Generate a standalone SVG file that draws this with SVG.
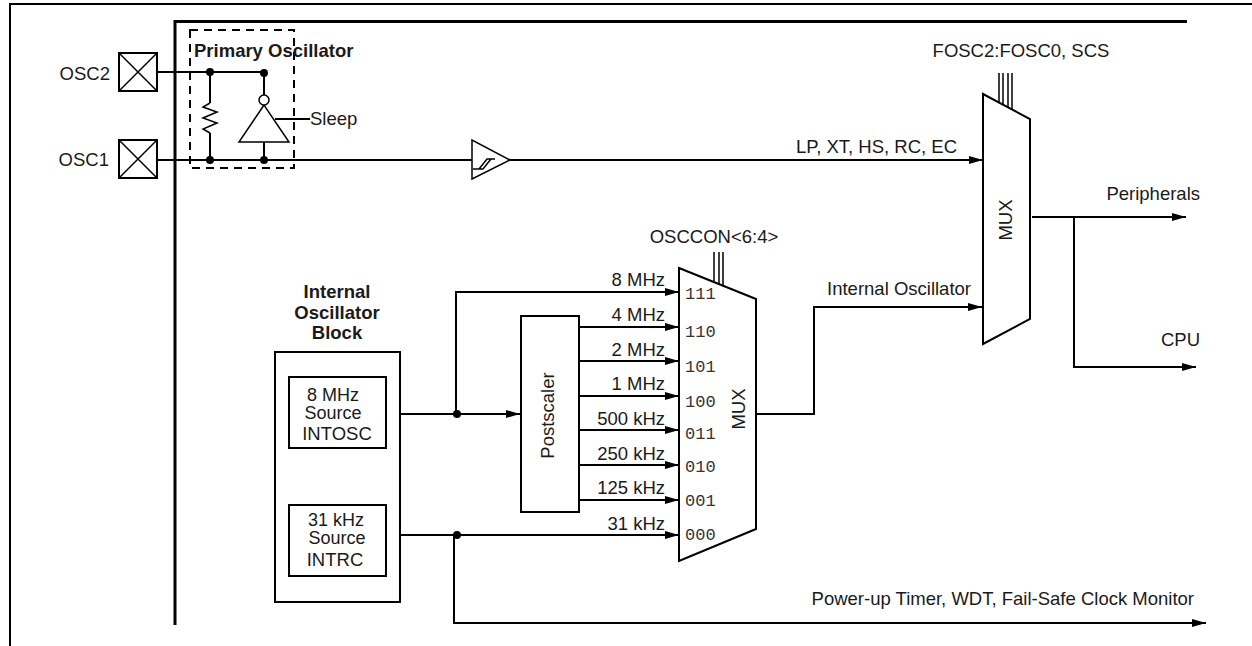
<svg xmlns="http://www.w3.org/2000/svg" width="1252" height="646" viewBox="0 0 1252 646">
<style>
text{font-family:"Liberation Sans",Arial,sans-serif;font-size:18.500px;fill:#1a1a1a}
.b{font-weight:bold}
.m{font-family:"Liberation Mono","Courier New",monospace;font-size:17px;fill:#333}
.e{text-anchor:end}
.c{text-anchor:middle}
.s{font-size:18px}
.l{fill:none;stroke:#000;stroke-width:2}
.t{fill:none;stroke:#000;stroke-width:1.5}
.box{fill:#fff;stroke:#000;stroke-width:2}
</style>
<defs>
<marker id="a" markerUnits="userSpaceOnUse" markerWidth="15" markerHeight="10" refX="14" refY="5" orient="auto"><path d="M0 1L14 5L0 9Z"/></marker>
<circle id="d" r="4"/>
</defs>
<path id="frame" d="M10 646V4H1252" fill="none" stroke="#000" stroke-width="2"/>
<path id="border" d="M175 625V21.500H1187" fill="none" stroke="#000" stroke-width="3"/>
<g id="connectors">
<path class="l" d="M157 72H264M157 160H472"/>
<path class="l" d="M510 160H983" marker-end="url(#a)"/>
<path class="l" d="M210 72V103M210 133V160M264 72V95M264 142V160M275 119H310"/>
<path class="l" d="M384 414H520" marker-end="url(#a)"/>
<path class="l" d="M456 414V292H679" marker-end="url(#a)"/>
<path class="l" d="M579 327H679" marker-end="url(#a)"/>
<path class="l" d="M579 361H679" marker-end="url(#a)"/>
<path class="l" d="M579 396H679" marker-end="url(#a)"/>
<path class="l" d="M579 430H679" marker-end="url(#a)"/>
<path class="l" d="M579 465H679" marker-end="url(#a)"/>
<path class="l" d="M579 500H679" marker-end="url(#a)"/>
<path class="l" d="M384 535H679" marker-end="url(#a)"/>
<path class="l" d="M454 535V623H1206" marker-end="url(#a)"/>
<path class="l" d="M756 414H814V307H982" marker-end="url(#a)"/>
<path class="l" d="M1032 217H1186" marker-end="url(#a)"/>
<path class="l" d="M1074 217V367H1196" marker-end="url(#a)"/>
<path class="t" d="M714 252V282M719 252V284M723 252V285"/>
<path class="t" d="M999 73V104M1003 73V106M1008 73V108M1012 73V111"/>
<use href="#d" x="210" y="72"/><use href="#d" x="264" y="73"/><use href="#d" x="210" y="160"/><use href="#d" x="264" y="160"/>
<use href="#d" x="457" y="414"/><use href="#d" x="457" y="535"/>
</g>
<g id="osc2"><rect class="box" x="119" y="53" width="38" height="38"/><path class="t" d="M119 53L157 91M157 53L119 91"/><text class="e" x="110" y="80">OSC2</text></g>
<g id="osc1"><rect class="box" x="119" y="140" width="38" height="38"/><path class="t" d="M119 140L157 178M157 140L119 178"/><text class="e" x="109" y="166">OSC1</text></g>
<g id="primary">
<rect x="190" y="30" width="104" height="138" fill="none" stroke="#000" stroke-width="2" stroke-dasharray="8 6"/>
<text class="b" x="194" y="57">Primary Oscillator</text>
<path class="t" d="M210 103L203 107L217 112L203 118L217 123L203 129L210 133"/>
<path d="M264 105L239 142H289Z" fill="#fff" stroke="#000" stroke-width="1.5"/>
<circle cx="264" cy="100" r="5" fill="#fff" stroke="#000" stroke-width="1.500"/>
<text x="310" y="125">Sleep</text>
</g>
<g id="schmitt"><path d="M472 140V179L510 160Z" fill="#fff" stroke="#000" stroke-width="1.500"/><path class="t" d="M473 169H483L491 159H495M479 169L487 159H491"/></g>
<g id="mux1"><path class="box" d="M983 94L1030 119V319L983 344Z"/><text class="c" transform="translate(1012 220) rotate(-90)">MUX</text></g>
<g id="mux2"><path class="box" d="M679 268L756 299V529L679 561Z"/><text class="c" transform="translate(745 409) rotate(-90)">MUX</text>
<text class="m" x="685" y="299">111</text><text class="m" x="685" y="337">110</text><text class="m" x="685" y="372">101</text><text class="m" x="685" y="407">100</text><text class="m" x="685" y="439">011</text><text class="m" x="685" y="472">010</text><text class="m" x="685" y="506">001</text><text class="m" x="685" y="540">000</text></g>
<g id="postscaler"><rect class="box" x="521" y="316" width="58" height="196"/><text class="c" transform="translate(554 415.500) rotate(-90)">Postscaler</text></g>
<g id="block"><rect class="box" x="275" y="352" width="125" height="250"/>
<text class="b c" x="337" y="298">Internal</text><text class="b c" x="337" y="319">Oscillator</text><text class="b c" x="337" y="339">Block</text></g>
<g id="intosc"><rect class="box" x="289" y="377" width="97" height="71"/><text class="c s" x="333" y="401">8 MHz</text><text class="c s" x="333" y="419">Source</text><text class="c" x="337" y="440">INTOSC</text></g>
<g id="intrc"><rect class="box" x="289" y="505" width="97" height="71"/><text class="c s" x="336" y="526">31 kHz</text><text class="c s" x="337" y="544">Source</text><text class="c" x="335" y="566">INTRC</text></g>
<g id="labels">
<text class="c" x="1021" y="57">FOSC2:FOSC0, SCS</text>
<text class="e" x="957" y="153">LP, XT, HS, RC, EC</text>
<text class="c" x="714" y="243">OSCCON&lt;6:4&gt;</text>
<text class="e" x="971" y="295">Internal Oscillator</text>
<text class="e" x="1200" y="200">Peripherals</text>
<text class="e" x="1200" y="346">CPU</text>
<text class="e" x="1194" y="605">Power-up Timer, WDT, Fail-Safe Clock Monitor</text>
<text class="e" x="665" y="286">8 MHz</text><text class="e" x="665" y="321">4 MHz</text><text class="e" x="665" y="356">2 MHz</text><text class="e" x="665" y="390">1 MHz</text>
<text class="e" x="665" y="425">500 kHz</text><text class="e" x="665" y="460">250 kHz</text><text class="e" x="665" y="494">125 kHz</text><text class="e" x="665" y="530">31 kHz</text>
</g>
</svg>
